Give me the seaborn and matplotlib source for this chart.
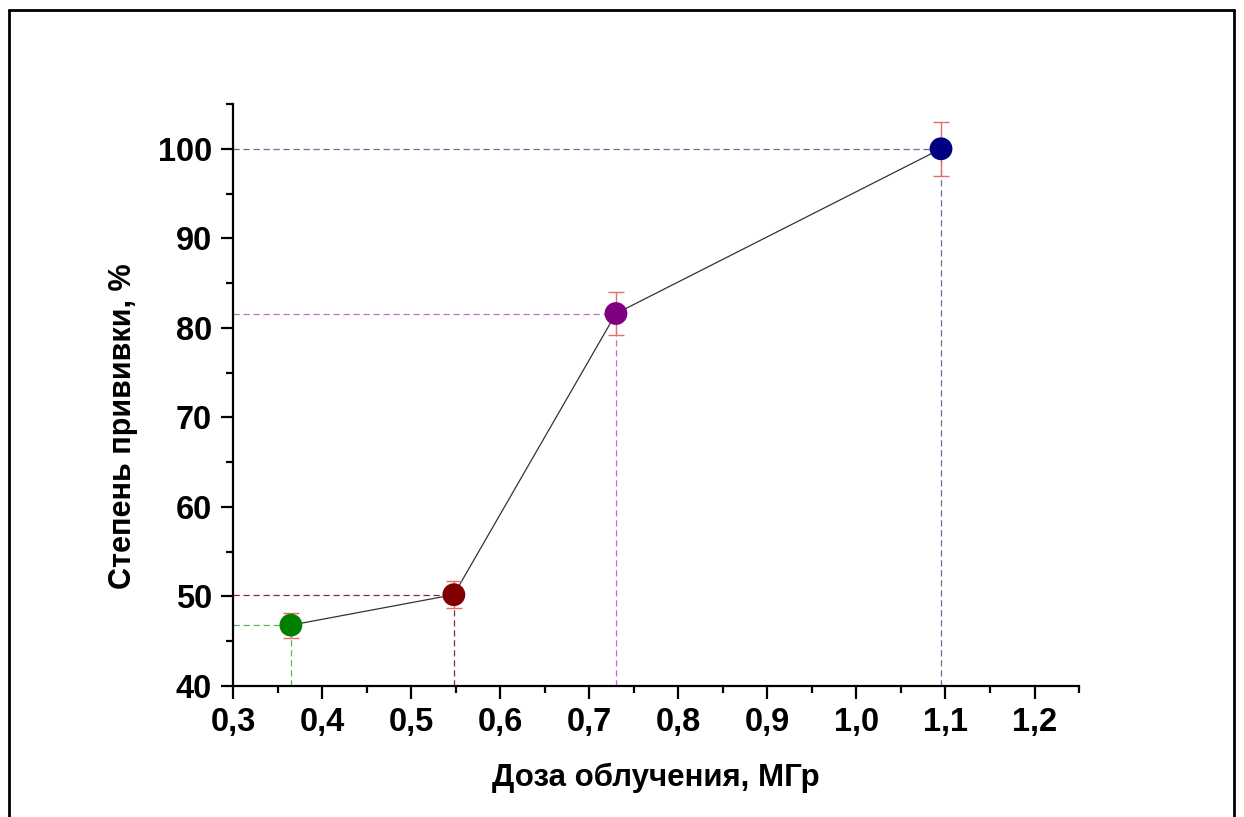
import matplotlib
matplotlib.use("Agg")
import matplotlib.pyplot as plt
from matplotlib.lines import Line2D
from matplotlib.ticker import MultipleLocator, FuncFormatter
import seaborn as sns
import pandas as pd

dose = [0.365, 0.548, 0.730, 1.095]
grafting = [46.8, 50.2, 81.6, 100.0]
err = [1.4, 1.5, 2.4, 3.0]
point_colors = ["#008000", "#800000", "#800080", "#000080"]
guide_colors = ["#60b060", "#803030", "#c070c0", "#6a6a98"]

xlabel = "Доза облучения, МГр"
ylabel = "Степень прививки, %"

sns.set_theme(style="white")
plt.rcParams['font.family'] = ['Liberation Sans', 'DejaVu Sans']
plt.rcParams['text.color'] = 'black'
plt.rcParams['axes.labelcolor'] = 'black'

df = pd.DataFrame({"dose": dose, "grafting": grafting, "pt": list(range(len(dose)))})

fig = plt.figure(figsize=(12.44, 8.17), dpi=100)
ax = fig.add_axes([0.1873, 0.1603, 0.8674 - 0.1873, 0.8727 - 0.1603])

ax.set_xlim(0.3, 1.25)
ax.set_ylim(40, 105)

# guide lines
for x, y, c in zip(dose, grafting, guide_colors):
    ax.plot([0.3, x], [y, y], ls=(0, (5, 3)), lw=0.9, color=c, zorder=1)
    ax.plot([x, x], [40, y], ls=(0, (5, 3)), lw=0.9, color=c, zorder=1)

sns.lineplot(data=df, x="dose", y="grafting", color="#333333", lw=0.9, ax=ax, zorder=2, sort=False)
ax.errorbar(dose, grafting, yerr=err, fmt="none", ecolor="#e07070", elinewidth=1.0,
            capsize=6, capthick=1.0, zorder=3)
sns.scatterplot(data=df, x="dose", y="grafting", hue="pt", palette=point_colors, s=270,
                edgecolor="none", legend=False, ax=ax, zorder=4)

ax.xaxis.set_major_locator(MultipleLocator(0.1))
ax.xaxis.set_minor_locator(MultipleLocator(0.05))
ax.yaxis.set_major_locator(MultipleLocator(10))
ax.yaxis.set_minor_locator(MultipleLocator(5))
ax.xaxis.set_major_formatter(FuncFormatter(lambda v, p: f"{v:.1f}".replace(".", ",")))
ax.yaxis.set_major_formatter(FuncFormatter(lambda v, p: f"{v:.0f}"))

for s in ["top", "right"]:
    ax.spines[s].set_visible(False)
for s in ["left", "bottom"]:
    ax.spines[s].set_linewidth(1.6)
    ax.spines[s].set_color("black")

ax.tick_params(which="major", direction="out", length=9, width=1.6, colors="black",
               labelcolor="black", labelsize=23.5, pad=6, left=True, bottom=True)
ax.tick_params(which="minor", direction="out", length=5, width=1.6, colors="black",
               left=True, bottom=True)
for lab in ax.get_xticklabels() + ax.get_yticklabels():
    lab.set_fontweight("bold")

ax.set_xlabel(xlabel, fontsize=22.5, fontweight="bold", labelpad=18, color="black")
ax.set_ylabel(ylabel, fontsize=22, fontweight="bold", color="black")
ax.yaxis.set_label_coords(-0.112, 0.447)

# figure frame (top, left, right)
fx0, fx1, fy = 9 / 1244, 1234 / 1244, 1 - 10 / 817
fig.add_artist(Line2D([fx0, fx1], [fy, fy], transform=fig.transFigure, color="black", lw=2))
fig.add_artist(Line2D([fx0, fx0], [0, fy], transform=fig.transFigure, color="black", lw=2))
fig.add_artist(Line2D([fx1, fx1], [0, fy], transform=fig.transFigure, color="black", lw=2))

fig.savefig("out.png", dpi=100, facecolor="white")
